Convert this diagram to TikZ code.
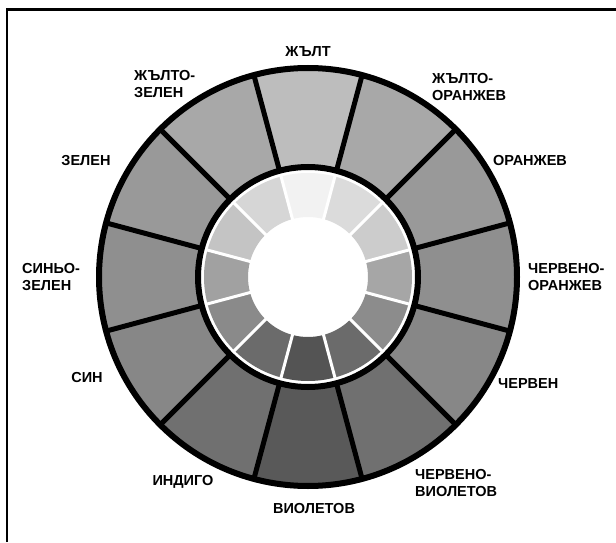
\documentclass[tikz,border=0pt]{standalone}
\usepackage{fontspec}
\setmainfont{Liberation Sans}
\usetikzlibrary{positioning}
\tikzstyle{lbl} = [font=\bfseries\fontsize{14.5}{17}\selectfont, inner sep=0pt, align=left]
\tikzstyle{spoke} = [line width=5pt, black]
\tikzstyle{gap} = [line width=3pt, white]
\tikzstyle{rim} = [line width=6pt, black]

\begin{document}
\begin{tikzpicture}[x=1pt,y=1pt]
        \useasboundingbox (0,0) rectangle (616,542);
        \draw[line width=2.5pt] (7,0) -- (7,532.5) -- (616,532.5);
        \begin{scope}[shift={(308,265)}]
        \coordinate (c) at (0,0);
        % outer ring
        \foreach \i/\g in {0/74,1/66,2/60,3/56,4/53,5/44,6/35,7/44,8/53,9/56,10/60,11/66} {
          \pgfmathsetmacro\a{90-30*\i}
          \fill[white!\g!black] (\a-15:209) arc[start angle=\a-15, end angle=\a+15, radius=209]
            -- (\a+15:110) arc[start angle=\a+15, end angle=\a-15, radius=110] -- cycle;
        }
        \foreach \i in {0,...,11}
          \draw[spoke] (15+30*\i:110) -- (15+30*\i:209);
        \draw[rim] (c) circle[radius=209];
        % inner ring
        \fill[white] (c) circle[radius=110];
        \foreach \i/\g in {0/95,1/86,2/80,3/65,4/55,5/42,6/33,7/42,8/54,9/63,10/77,11/84} {
          \pgfmathsetmacro\a{90-30*\i}
          \fill[white!\g!black] (\a-15:104) arc[start angle=\a-15, end angle=\a+15, radius=104]
            -- (\a+15:60) arc[start angle=\a+15, end angle=\a-15, radius=60] -- cycle;
        }
        \foreach \i in {0,...,11}
          \draw[gap] (15+30*\i:58) -- (15+30*\i:106);
        \fill[white] (c) circle[radius=59];
        \draw[rim] (c) circle[radius=110];
        \end{scope}
        % labels
        \node[lbl] (yellow) at (308,490) {ЖЪЛТ};
        \node[lbl, anchor=west] (yelgreen) at (134,458) {ЖЪЛТО-\\ЗЕЛЕН};
        \node[lbl, anchor=west] (yelorange) at (432,455) {ЖЪЛТО-\\ОРАНЖЕВ};
        \node[lbl] (green) at (86,381) {ЗЕЛЕН};
        \node[lbl] (orange) at (530,381) {ОРАНЖЕВ};
        \node[lbl, anchor=west] (bluegreen) at (22,265) {СИНЬО-\\ЗЕЛЕН};
        \node[lbl, anchor=west] (redorange) at (528,265) {ЧЕРВЕНО-\\ОРАНЖЕВ};
        \node[lbl] (blue) at (87,164) {СИН};
        \node[lbl, anchor=west] (red) at (498,158) {ЧЕРВЕН};
        \node[lbl] (indigo) at (183,60) {ИНДИГО};
        \node[lbl, anchor=west] (redviolet) at (415,58.5) {ЧЕРВЕНО-\\ВИОЛЕТОВ};
        \node[lbl] (violet) at (314,33) {ВИОЛЕТОВ};
\end{tikzpicture}
\end{document}
